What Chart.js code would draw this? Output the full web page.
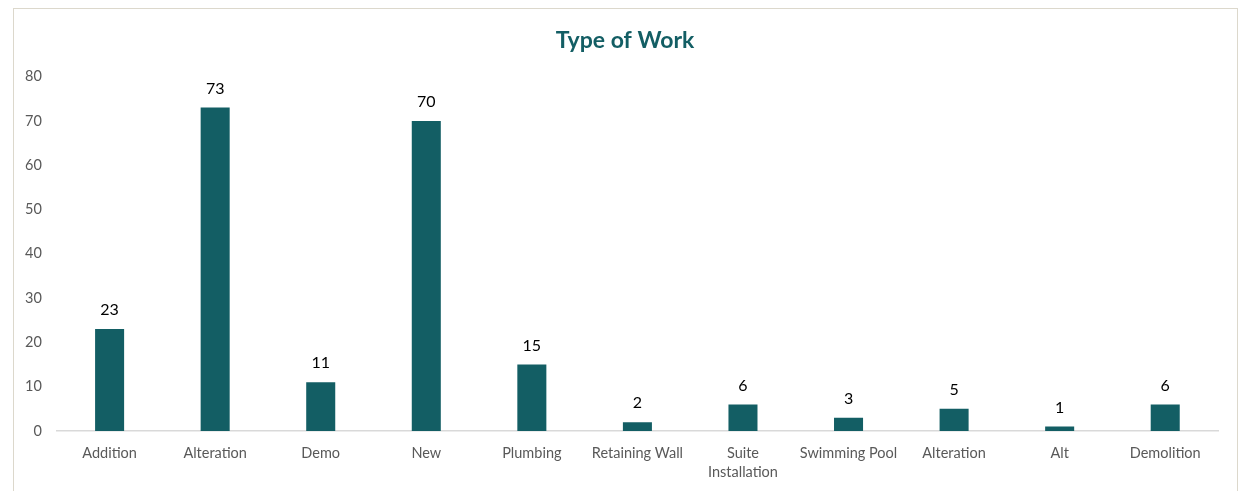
<!DOCTYPE html>
<html>
<head>
<meta charset="utf-8">
<script src="https://cdn.jsdelivr.net/npm/chart.js@4/dist/chart.umd.min.js"></script>
<style>
    html, body { margin: 0; padding: 0; background: #fff; }
    #wrap { position: relative; width: 1247px; height: 491px; overflow: hidden; }
    #frame {
        position: absolute; left: 13px; top: 8px; width: 1225px; height: 500px;
        border: 1.5px solid #dcd8cc; box-sizing: border-box;
    }
    #typeOfWorkChart { position: absolute; left: 0; top: 0; }
</style>
</head>
<body>
<div id="wrap">
    <div id="frame"></div>
    <canvas id="typeOfWorkChart" width="1247" height="491"></canvas>
</div>
<script>
const categories = [
    "Addition", "Alteration", "Demo", "New", "Plumbing", "Retaining Wall",
    ["Suite", "Installation"], "Swimming Pool", "Alteration", "Alt", "Demolition"
];
const workCounts = [23, 73, 11, 70, 15, 2, 6, 3, 5, 1, 6];
const yTicks = [0, 10, 20, 30, 40, 50, 60, 70, 80];

const barColor = "#135e64";
const fontFamily = "Lato, 'Open Sans', sans-serif";

// draws the number above every bar
const valueLabels = {
    id: "valueLabels",
    afterLayout(chart) {
        // center the title on the whole frame, not on the padded area
        if (chart.titleBlock) {
            chart.titleBlock.left = 13;
            chart.titleBlock.right = 1237;
        }
    },
    afterDatasetsDraw(chart) {
        const ctx = chart.ctx;
        const meta = chart.getDatasetMeta(0);
        ctx.save();
        ctx.font = "16px " + fontFamily;
        ctx.fillStyle = "#000";
        ctx.textAlign = "center";
        ctx.textBaseline = "middle";
        meta.data.forEach((bar, i) => {
            ctx.fillText(String(workCounts[i]), bar.x, bar.y - 19);
        });
        ctx.restore();
    },
};

const ctx = document.getElementById("typeOfWorkChart").getContext("2d");

new Chart(ctx, {
    type: "bar",
    data: {
        labels: categories,
        datasets: [
            {
                label: "Type of Work",
                data: workCounts,
                backgroundColor: barColor,
                borderWidth: 0,
                barPercentage: 0.55,
                categoryPercentage: 0.5,
            },
        ],
    },
    options: {
        responsive: false,
        animation: false,
        layout: {
            padding: { top: 27, left: 10, right: 29, bottom: 8 },
        },
        plugins: {
            legend: { display: false },
            tooltip: { enabled: false },
            title: {
                display: true,
                text: "Type of Work",
                color: barColor,
                font: { family: fontFamily, size: 23, weight: "bold" },
                padding: { top: 0, bottom: 22 },
            },
        },
        scales: {
            y: {
                min: 0,
                max: 80,
                afterBuildTicks: (axis) => {
                    axis.ticks = yTicks.map((v) => ({ value: v }));
                },
                grid: { display: false, drawTicks: false },
                border: { display: false },
                ticks: {
                    color: "#595959",
                    font: { family: fontFamily, size: 14.5 },
                    padding: 15,
                },
            },
            x: {
                afterFit: (axis) => {
                    axis.height = 52; // keep the zero line where the original has it
                },
                grid: { display: false, drawTicks: false },
                border: { display: true, color: "#d9d9d9", width: 1.5 },
                ticks: {
                    color: "#595959",
                    font: { family: fontFamily, size: 14.5, lineHeight: 1.3 },
                    padding: 13,
                    maxRotation: 0,
                    autoSkip: false,
                },
            },
        },
    },
    plugins: [valueLabels],
});
</script>
</body>
</html>
